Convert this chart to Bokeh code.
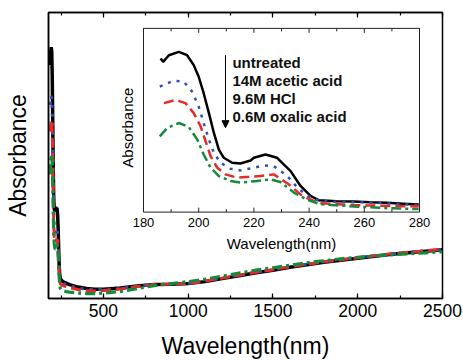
import math
from bokeh.plotting import figure
from bokeh.models import (LinearAxis, SingleIntervalTicker, FixedTicker, Range1d,
                          Arrow, NormalHead)
from bokeh.core.properties import value
from bokeh.embed import file_html
from bokeh.resources import INLINE

FONT = "Liberation Sans"

# ---------------- data: full spectrum (main panel) ----------------
main_x = [186, 189, 192, 195, 198, 201, 204, 207, 210, 214, 218, 222, 226, 230, 233, 236,
          239, 242, 246, 250, 260, 280, 300, 350, 400, 450, 500, 600, 700, 800, 900, 1000,
          1100, 1200, 1300, 1400, 1500, 1600, 1700, 1800, 1900, 2000, 2100, 2200, 2300,
          2400, 2500]
main_untreated = [235, 248, 253, 249, 225, 180, 130, 100, 90, 88, 89, 91, 91, 84, 70, 50,
                  33, 24, 20, 19, 17, 15.5, 14, 11.5, 10, 9.2, 9.2, 10.5, 12.5, 14, 14.3, 15,
                  17, 20, 23, 26, 28.5, 31.5, 34, 36.5, 38.5, 40.5, 42.5, 44.5, 46, 47.5, 49]
main_acetic = [195, 201, 204, 202, 190, 160, 118, 85, 72, 67, 67, 70, 71, 65, 55, 42,
               30, 22, 18, 17, 15.5, 14, 13, 10.5, 9.5, 9, 9, 10, 12.5, 14, 14.5, 15.2,
               17.5, 20.5, 23.5, 26.5, 29, 32, 34.5, 37, 39, 41, 43, 45, 46.5, 48, 49.5]
main_hcl = [168, 175, 180, 178, 168, 145, 105, 75, 62, 57, 57, 59, 60, 55, 47, 36,
            25, 18, 15, 14, 13, 12, 11, 9, 8, 7.5, 8, 9.5, 12, 14, 14.5, 15,
            17.5, 20.5, 23.5, 26.5, 29, 32, 34.5, 37, 39, 41, 43, 45, 46.5, 48, 49.5]
main_oxalic = [125, 138, 145, 143, 135, 118, 88, 65, 55, 50, 50, 53, 54, 50, 43, 33,
               22, 14, 10, 9, 8, 7, 6.5, 5.5, 5, 5, 5.5, 7, 10, 13, 15, 17,
               19.5, 22.5, 25.5, 28.5, 31, 33.5, 36, 38, 40, 41.5, 43, 44, 45, 46, 47]

# ---------------- data: UV region (inset) ----------------
ins_x_untreated = [186.2, 187.1, 189.2, 192.8, 195.8, 198.2, 200.0, 201.8, 203.7, 205.5,
                   207.3, 209.1, 212.1, 215.1, 218.8, 220.0, 224.2, 228.4, 233.3, 236.9,
                   240.5, 243.5, 250.0, 256.2, 262.0, 268.3, 274.0, 279.7]
ins_untreated = [154.7, 151.3, 158, 161.3, 158, 148, 136.3, 119.7, 99.7, 79.7,
                 63, 54.7, 49.7, 49, 52, 54.7, 58, 54.7, 41.3, 26.3,
                 16.3, 12, 11, 10.7, 10, 9.3, 8.5, 7.7]
ins_x_acetic = [185.9, 190.8, 194.6, 197.6, 200.0, 201.8, 203.7, 205.5, 207.9, 211.5,
                215.1, 220.0, 223.6, 227.2, 232.1, 236.3, 240.5, 244.1, 250.2, 262.2, 279.7]
ins_acetic = [126.3, 132.3, 131.3, 121.3, 106.3, 89.7, 73, 59.7, 49.7, 43.7,
              42, 44.7, 47, 46.3, 36.3, 23, 14.7, 11, 10.3, 9.7, 7]
ins_x_hcl = [187.4, 191.6, 195.2, 198.2, 200.7, 202.5, 204.3, 206.7, 209.7, 213.9,
             218.2, 222.4, 227.2, 232.6, 237.5, 241.7, 244.1, 256.2, 268.3, 279.7]
ins_hcl = [109.7, 113, 109.7, 99.7, 86.3, 71.3, 56.3, 44.7, 38, 34.7,
           35.5, 36.3, 38, 28, 16.3, 11.3, 9, 7, 6.3, 5.7]
ins_x_oxalic = [185.9, 188.6, 192.8, 196.4, 199.5, 201.8, 204.3, 207.3, 211.5, 215.1,
                221.2, 226.0, 229.6, 234.5, 239.3, 244.1, 256.2, 268.3, 279.7]
ins_oxalic = [76.3, 84.7, 89.7, 85.7, 73, 58, 44.7, 36.3, 31.3, 29.7,
              31.3, 33, 30.3, 19.7, 12.3, 8, 5.7, 4, 3]

inset_major_ticks = [180, 200, 220, 240, 260, 280]
inset_minor_ticks = [190, 210, 230, 250, 270]
inset_tick_labels = ["180", "200", "220", "240", "260", "280"]

series_labels = ["untreated", "14M acetic acid", "9.6M HCl", "0.6M oxalic acid"]
colors = ["#000000", "#2f4fb5", "#e8282a", "#168a3a"]
dashes = ["solid", "3 6", "10 5", "10 4 3 4"]

# ---------------- main figure ----------------
p = figure(width=463, height=361, output_backend="svg", toolbar_location=None,
           x_range=Range1d(176, 2500), y_range=Range1d(0, 288),
           x_axis_location=None, y_axis_location=None,
           min_border_left=48, min_border_right=21, min_border_top=12, min_border_bottom=61)
p.grid.visible = False
p.outline_line_color = "black"
p.outline_line_width = 1.5
p.background_fill_color = "white"
p.border_fill_color = "white"

xb = LinearAxis(ticker=SingleIntervalTicker(interval=500, num_minor_ticks=2),
                axis_label="Wavelength(nm)")
xt = LinearAxis(ticker=SingleIntervalTicker(interval=500, num_minor_ticks=2))
yl = LinearAxis(ticker=FixedTicker(ticks=[]), axis_label="Absorbance")
for ax in (xb, xt, yl):
    ax.axis_line_color = "black"
    ax.axis_line_width = 1.5
    ax.major_tick_in = 5
    ax.major_tick_out = 0
    ax.minor_tick_in = 3
    ax.minor_tick_out = 0
    ax.major_tick_line_width = 1.2
    ax.minor_tick_line_width = 1.2
    ax.major_label_text_font = FONT
    ax.axis_label_text_font = FONT
    ax.axis_label_text_font_style = "normal"
    ax.axis_label_text_font_size = "23px"
    ax.axis_label_text_color = "black"
    ax.major_label_text_color = "black"
xb.major_label_text_font_size = "17.5px"
xb.major_label_standoff = 5
xb.axis_label_standoff = 13
xt.major_label_text_font_size = "0px"
xt.major_label_text_color = None
yl.axis_label_standoff = 18
p.add_layout(xb, "below")
p.add_layout(xt, "above")
p.add_layout(yl, "left")

main_ys = [main_untreated, main_acetic, main_hcl, main_oxalic]
widths_main = [3.5, 3, 3, 3.2]
for ys, c, d, w in zip(main_ys, colors, dashes, widths_main):
    p.line(main_x, ys, line_color=c, line_dash=d, line_width=w)

# ---------------- inset (drawn on extra ranges of the same figure) ----------------
p.extra_x_ranges = {"ix": Range1d(145.58, 288.33)}
p.extra_y_ranges = {"iy": Range1d(-87, 201)}
R = dict(x_range_name="ix", y_range_name="iy")

p.quad(left=[180], right=[280], bottom=[0], top=[185], fill_color="white",
       line_color="#222222", line_width=1, **R)

# ticks (inside, bottom and top)
p.segment(x0=inset_major_ticks, y0=[0] * 6, x1=inset_major_ticks, y1=[4.5] * 6,
          line_color="#222222", line_width=1, **R)
p.segment(x0=inset_minor_ticks, y0=[0] * 5, x1=inset_minor_ticks, y1=[3] * 5,
          line_color="#222222", line_width=1, **R)
p.segment(x0=inset_major_ticks, y0=[185] * 6, x1=inset_major_ticks, y1=[180.5] * 6,
          line_color="#222222", line_width=1, **R)
p.segment(x0=inset_minor_ticks, y0=[185] * 5, x1=inset_minor_ticks, y1=[182] * 5,
          line_color="#222222", line_width=1, **R)

p.text(x=inset_major_ticks, y=[-10] * 6, text=inset_tick_labels,
       text_font=value(FONT), text_font_size="13px", text_align="center",
       text_baseline="middle", text_color="black", **R)
p.text(x=[230], y=[-32], text=["Wavelength(nm)"], text_font=value(FONT),
       text_font_size="15px", text_align="center", text_baseline="middle",
       text_color="black", **R)
p.text(x=[174.2], y=[85], text=["Absorbance"], angle=math.pi / 2, text_font=value(FONT),
       text_font_size="15px", text_align="center", text_baseline="middle",
       text_color="black", **R)

ins_xs = [ins_x_untreated, ins_x_acetic, ins_x_hcl, ins_x_oxalic]
ins_ys = [ins_untreated, ins_acetic, ins_hcl, ins_oxalic]
for xs, ys, c, d in zip(ins_xs, ins_ys, colors, dashes):
    p.line(xs, ys, line_color=c, line_dash=d, line_width=2.5, **R)

p.text(x=[212.2] * 4, y=[151, 133, 114.5, 96], text=series_labels,
       text_font=value(FONT), text_font_style="bold", text_font_size="15px",
       text_baseline="middle", text_align="left", text_color="#111111", **R)
p.add_layout(Arrow(end=NormalHead(size=7, fill_color="black", line_color="black"),
                   x_start=209.7, y_start=158, x_end=209.7, y_end=85,
                   line_color="black", line_width=1, **R))

open("out.html", "w").write(file_html(p, INLINE))
